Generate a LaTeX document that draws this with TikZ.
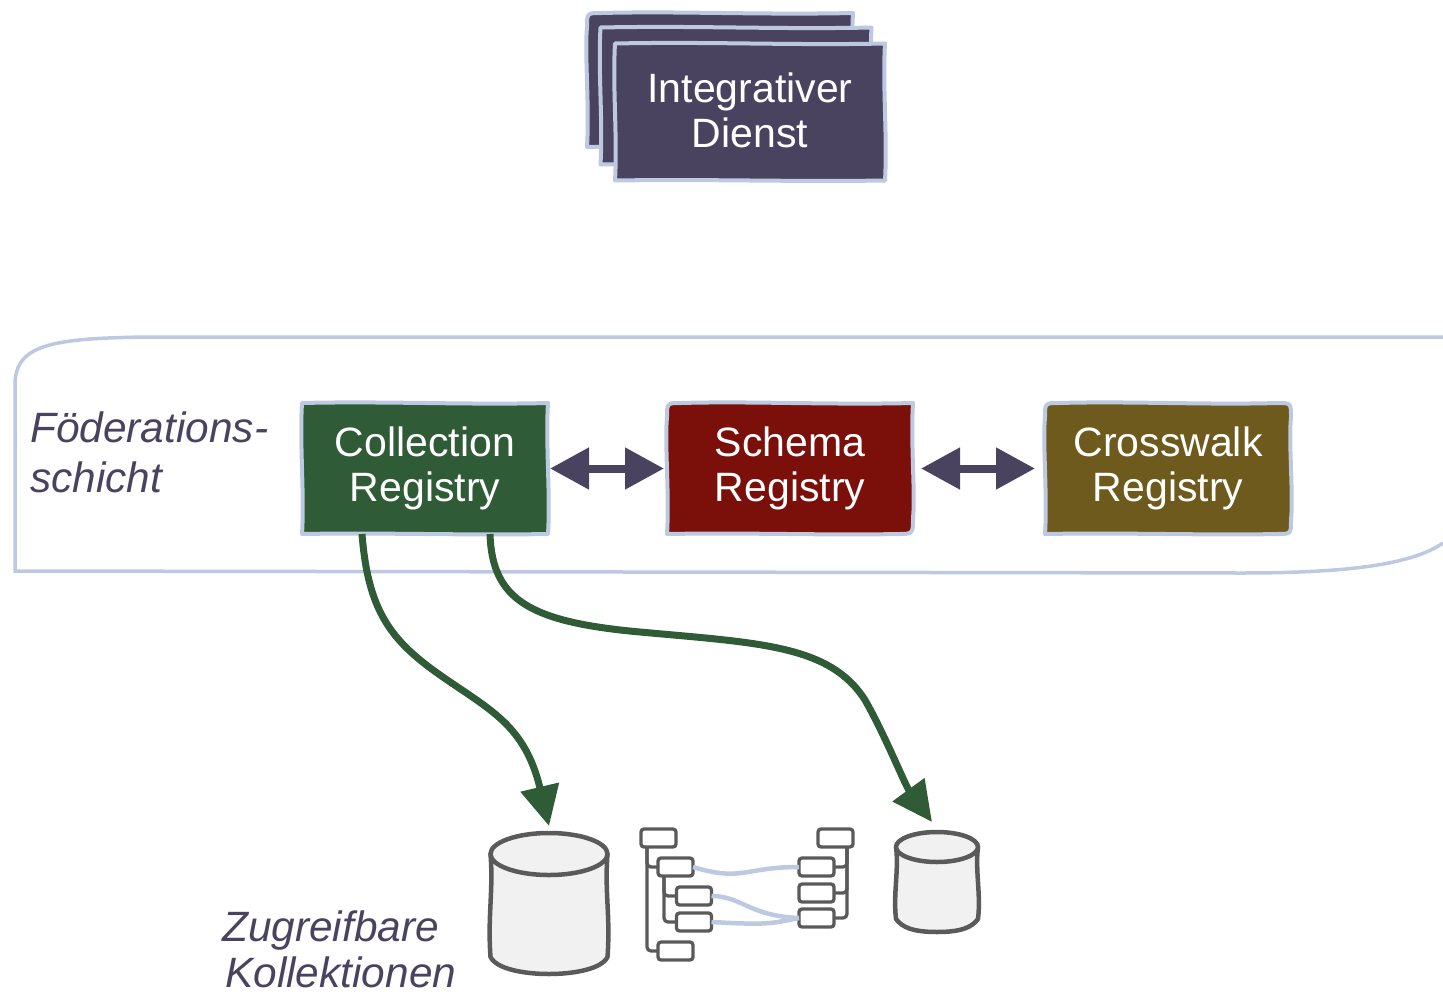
\documentclass[tikz,border=0pt]{standalone}
\usepackage{fontspec}
\setmainfont{Liberation Sans}
\usetikzlibrary{arrows.meta,backgrounds,calc}
\definecolor{dienstback}{RGB}{74,67,96}
\definecolor{rimblue}{RGB}{188,201,224}
\definecolor{collectionback}{RGB}{47,92,54}
\definecolor{schemaback}{RGB}{123,15,10}
\definecolor{crosswalkback}{RGB}{110,90,28}
\definecolor{sketchgray}{RGB}{90,90,90}
\definecolor{dbfill}{RGB}{241,241,241}
\tikzset{
  regbox/.style={minimum width=246pt,minimum height=131pt,inner sep=0pt,outer sep=0pt,
    text=white,align=center,font=\fontsize{41}{45}\selectfont},
  sidelabel/.style={anchor=west,inner sep=0pt,align=left,text=dienstback,
    font=\fontsize{42.4}{50}\selectfont\itshape},
  rim/.style={draw=rimblue,line width=4pt,line join=round},
  pairarrow/.style={{Triangle[length=39pt,width=40pt]}-{Triangle[length=39pt,width=40pt]},
    draw=dienstback,line width=8pt,shorten <=2pt,shorten >=3pt},
  greenarrow/.style={-{Triangle[length=40pt,width=38pt]},draw=collectionback,line width=7pt},
  dbline/.style={draw=sketchgray,line width=4.5pt,fill=dbfill,line join=round},
  dbnode/.style={inner sep=0pt,outer sep=0pt},
  treebox/.style={draw=sketchgray,line width=3.3pt,rounded corners=3pt,fill=white,
    minimum width=35pt,minimum height=18pt,inner sep=0pt,outer sep=0pt},
  treeline/.style={draw=sketchgray,line width=3.3pt,rounded corners=4pt},
  linkline/.style={draw=rimblue,line width=4.5pt},
}
% wobbly outline round a node: name, colour, radii nw ne se sw
\newcommand{\handbox}[6]{
  \begin{pgfonlayer}{background}
  \draw[rim,fill=#2] ([xshift=#3pt]#1.north west)
    .. controls ($(#1.north)+(-40pt,2pt)$) and ($(#1.north)+(40pt,-2pt)$) .. ([xshift=-#4pt]#1.north east)
    .. controls (#1.north east) .. ([yshift=-#4pt]#1.north east)
    .. controls ($(#1.east)+(-2.5pt,25pt)$) and ($(#1.east)+(2.5pt,-25pt)$) .. ([yshift=#5pt]#1.south east)
    .. controls (#1.south east) .. ([xshift=-#5pt]#1.south east)
    .. controls ($(#1.south)+(40pt,-1.5pt)$) and ($(#1.south)+(-40pt,1.5pt)$) .. ([xshift=#6pt]#1.south west)
    .. controls (#1.south west) .. ([yshift=#6pt]#1.south west)
    .. controls ($(#1.west)+(2.5pt,-25pt)$) and ($(#1.west)+(-2.5pt,25pt)$) .. ([yshift=-#3pt]#1.north west)
    .. controls (#1.north west) .. cycle;
  \end{pgfonlayer}
}
% cylinder drawn on a node: name, half width, top radius, bottom radius
\newcommand{\handdb}[4]{
  \draw[dbline] ([yshift=-#3pt]#1.north west)
    .. controls ($(#1.west)+(3pt,12pt)$) and ($(#1.west)+(-3pt,-12pt)$) .. ([yshift=#4pt]#1.south west)
    .. controls ([xshift=6pt,yshift=5pt]#1.south west) and ([xshift=-25pt]#1.south) .. (#1.south)
    .. controls ([xshift=25pt]#1.south) and ([xshift=-6pt,yshift=5pt]#1.south east) .. ([yshift=#4pt]#1.south east)
    .. controls ($(#1.east)+(3pt,-12pt)$) and ($(#1.east)+(-3pt,12pt)$) .. ([yshift=-#3pt]#1.north east)
    -- cycle;
  \draw[dbline] ([yshift=-#3pt]#1.north) ellipse [x radius=#2pt,y radius=#3pt];
}
\begin{document}
\begin{tikzpicture}[x=1pt,y=-1pt]
\useasboundingbox (0,0) rectangle (1443,996);

% dienst stack
\node [minimum width=266pt,minimum height=134pt,outer sep=0pt] (dienst1) at (720,80) {};
\node [minimum width=271pt,minimum height=137pt,outer sep=0pt] (dienst2) at (736,96) {};
\node [minimum width=270pt,minimum height=137pt,outer sep=0pt] (dienst3) at (750,112) {};
\node [text=white,align=center,inner sep=0pt,font=\fontsize{41}{45}\selectfont] (dienstlabel) at (750,110)
  {Integrativer\\Dienst};
\handbox{dienst1}{dienstback}{14}{0}{0}{0}
\handbox{dienst2}{dienstback}{0}{0}{0}{0}
\handbox{dienst3}{dienstback}{0}{0}{0}{0}

% foederation frame
\draw [draw=rimblue,line width=3.5pt] (1443,337) -- (150,337) .. controls (50,338) and (15,345) .. (15,385)
  -- (15,571) -- (1240,573) .. controls (1340,573) and (1410,566) .. (1443,543);
\node [sidelabel] (foederation) at (30,452.5) {Föderations-\\schicht};

\node [regbox] (collection) at (425,468.5) {Collection\\Registry};
\node [regbox] (schema) at (790,468.5) {Schema\\Registry};
\node [regbox] (crosswalk) at (1168,468.5) {Crosswalk\\Registry};
\handbox{collection}{collectionback}{0}{0}{0}{0}
\handbox{schema}{schemaback}{14}{0}{16}{0}
\handbox{crosswalk}{crosswalkback}{14}{14}{14}{0}

\draw [pairarrow] (collection) -- (schema);
\draw [pairarrow,shorten <=8pt,shorten >=10pt] (schema) -- (crosswalk);

% kollektionen
\node [dbnode,minimum width=117pt,minimum height=141pt] (bigdb) at (549,903.5) {};
\node [dbnode,minimum width=82pt,minimum height=100pt] (smalldb) at (937,882) {};
\handdb{bigdb}{58.5}{21}{17}
\handdb{smalldb}{41}{15}{13}
\node [sidelabel,font=\fontsize{42.4}{46}\selectfont\itshape] (kollektionen) at (222,949)
  {Zugreifbare\\\hspace*{3pt}Kollektionen};

\draw [greenarrow] ([xshift=-63pt]collection.south) .. controls (368,610) and (390,640) .. (440,675)
  .. controls (490,710) and (525,725) .. (549,826);
\draw [greenarrow] ([xshift=65pt]collection.south) .. controls (492,600) and (530,622) .. (640,632)
  .. controls (760,643) and (830,645) .. (865,700) .. controls (885,735) and (905,785) .. (932,822);

% schema trees
\node [treebox] (leftroot) at (658.5,838) {};
\node [treebox] (lefta) at (675.5,867) {};
\node [treebox] (leftb) at (694,896) {};
\node [treebox] (leftc) at (694,922) {};
\node [treebox] (leftd) at (675.5,951) {};
\node [treebox] (rightroot) at (835.5,838) {};
\node [treebox] (righta) at (816.5,867) {};
\node [treebox] (rightb) at (816.5,893) {};
\node [treebox] (rightc) at (816.5,918) {};
\begin{pgfonlayer}{background}
\draw [treeline] ([xshift=6pt]leftroot.south west) |- (leftd.west);
\draw [treeline] ([xshift=6pt]leftroot.south west) |- (lefta.west);
\draw [treeline] ([xshift=6pt]lefta.south west) |- (leftb.west);
\draw [treeline] ([xshift=6pt]lefta.south west) |- (leftc.west);
\draw [treeline] ([xshift=-6pt]rightroot.south east) |- (righta.east);
\draw [treeline] ([xshift=-6pt]rightroot.south east) |- (rightb.east);
\draw [treeline] ([xshift=-6pt]rightroot.south east) |- (rightc.east);
\end{pgfonlayer}
\draw [linkline] (lefta.east) .. controls +(50,15) and +(-55,0) .. (righta.west);
\draw [linkline] (leftb.east) .. controls +(30,0) and +(-50,-2) .. (rightc.west);
\draw [linkline] (leftc.east) .. controls +(55,3) and +(-30,6) .. (rightc.west);
\end{tikzpicture}
\end{document}
